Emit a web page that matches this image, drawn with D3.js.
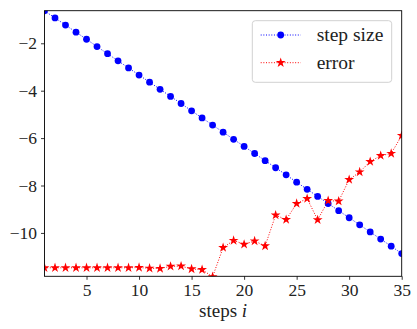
<!DOCTYPE html>
<html><head><meta charset="utf-8">
<script src="https://cdn.jsdelivr.net/npm/d3@7/dist/d3.min.js"></script>
<style>body{margin:0;background:#fff;} svg{display:block;} text{font-family:"Liberation Serif","DejaVu Serif",serif;}</style>
</head><body><svg id="c" width="417" height="329"></svg>
<script>
const steps = d3.range(1, 36);
const stepSize = [-0.63,-0.93,-1.23,-1.53,-1.83,-2.14,-2.44,-2.74,-3.04,-3.34,-3.64,-3.94,-4.24,-4.54,-4.85,-5.15,-5.45,-5.75,-6.05,-6.35,-6.65,-6.95,-7.25,-7.55,-7.86,-8.16,-8.46,-8.76,-9.06,-9.36,-9.66,-9.96,-10.26,-10.56,-10.87];
const errorVals = [-11.47,-11.47,-11.47,-11.47,-11.47,-11.47,-11.47,-11.47,-11.47,-11.46,-11.49,-11.5,-11.41,-11.4,-11.52,-11.55,-11.85,-10.62,-10.32,-10.48,-10.34,-10.55,-9.25,-9.44,-8.76,-8.55,-9.45,-8.64,-8.66,-7.75,-7.43,-6.99,-6.74,-6.65,-5.89];
const xTicks = [5,10,15,20,25,30,35];
const yTicks = [-2,-4,-6,-8,-10];
const legendLabels = ["step size","error"];

const svg = d3.select("#c");
const L=44.5, R=401.7, T=10.7, B=276.3;
const x = d3.scaleLinear().domain([1,35]).range([L,R]);
const y = d3.scaleLinear().domain([-11.83,-0.625]).range([B,T]);

svg.append("defs").append("clipPath").attr("id","clip")
  .append("rect").attr("x",L).attr("y",T).attr("width",R-L).attr("height",B-T);

const fmt = d => (d<0?"\u2212":"")+Math.abs(d);
const xa = svg.append("g").attr("transform",`translate(0,${B})`)
  .call(d3.axisBottom(x).tickValues(xTicks).tickSize(3.5).tickPadding(4).tickFormat(fmt));
const ya = svg.append("g").attr("transform",`translate(${L},0)`)
  .call(d3.axisLeft(y).tickValues(yTicks).tickSize(3.5).tickPadding(4).tickFormat(fmt));
[xa,ya].forEach(a=>{a.select(".domain").remove(); a.selectAll("line").attr("stroke","#000").attr("stroke-width",0.8);
  a.selectAll("text").attr("font-size",17.5).attr("fill","#222").attr("font-family","Liberation Serif, serif");});

const g = svg.append("g").attr("clip-path","url(#clip)");
const line = d3.line().x((d,i)=>x(steps[i])).y(d=>y(d));
g.append("path").attr("d",line(stepSize)).attr("fill","none").attr("stroke","blue").attr("stroke-width",1).attr("stroke-dasharray","1,1.65");
g.append("path").attr("d",line(errorVals)).attr("fill","none").attr("stroke","red").attr("stroke-width",1).attr("stroke-dasharray","1,1.65");
g.selectAll("circle.s").data(stepSize).join("circle").attr("cx",(d,i)=>x(steps[i])).attr("cy",d=>y(d)).attr("r",3.4).attr("fill","blue");
const star = d3.symbol().type(d3.symbolStar).size(30);
g.selectAll("path.e").data(errorVals).join("path").attr("d",star).attr("transform",(d,i)=>`translate(${x(steps[i])},${y(d)})`).attr("fill","red");

svg.append("rect").attr("x",L).attr("y",T).attr("width",R-L).attr("height",B-T).attr("fill","none").attr("stroke","#000").attr("stroke-width",0.9);

// legend
const lg = svg.append("g");
lg.append("rect").attr("x",252.3).attr("y",20.7).attr("width",139.4).attr("height",61.6).attr("rx",3).attr("fill","rgba(255,255,255,0.8)").attr("stroke","#ccc").attr("stroke-width",0.9);
const colors=["blue","red"];
legendLabels.forEach((lab,i)=>{
  const yy = 35 + i*27.7;
  lg.append("line").attr("x1",260.7).attr("x2",300.7).attr("y1",yy).attr("y2",yy).attr("stroke",colors[i]).attr("stroke-width",1).attr("stroke-dasharray","1,1.65");
  if(i===0) lg.append("circle").attr("cx",280.7).attr("cy",yy).attr("r",3.4).attr("fill","blue");
  else lg.append("path").attr("d",star).attr("transform",`translate(280.7,${yy})`).attr("fill","red");
  lg.append("text").attr("x",316.7).attr("y",yy).attr("dy","0.33em").attr("font-size",19.5).attr("fill","#222").text(lab);
});

const xl = svg.append("text").attr("x",(L+R)/2).attr("y",317).attr("text-anchor","middle").attr("font-size",19).attr("fill","#222");
xl.append("tspan").text("steps ");
xl.append("tspan").attr("font-style","italic").text("i");
</script></body></html>
